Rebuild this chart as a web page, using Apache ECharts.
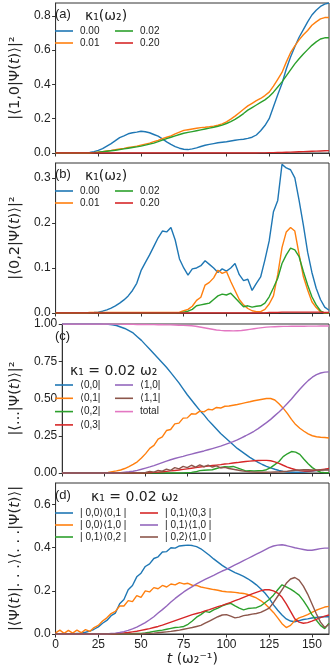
<!DOCTYPE html>
<html><head><meta charset="utf-8">
<script src="https://cdn.jsdelivr.net/npm/echarts@6/dist/echarts.min.js"></script>
<style>html,body{margin:0;padding:0;background:#fff}#c{width:332px;height:668px}</style>
</head><body><div id="c"></div>
<script>
// time grid (omega_2^-1)
const T = [0,2.5,5,7.5,10,12.5,15,17.5,20,22.5,
 25,27.5,30,32.5,35,37.5,40,42.5,45,47.5,
 50,52.5,55,57.5,60,62.5,65,67.5,70,72.5,
 75,77.5,80,82.5,85,87.5,90,92.5,95,97.5,
 100,102.5,105,107.5,110,112.5,115,117.5,120,122.5,
 125,127.5,130,132.5,135,137.5,140,142.5,145,147.5,
 150,152.5,155,157.5,160];

// panel (a): |<1,0|Psi(t)>|^2 for kappa1 = 0.00, 0.01, 0.02, 0.20
const a_k000 = [0,0,0,0,0,0,0,0,0.003,0.008,
 0.015,0.025,0.04,0.055,0.072,0.09,0.1,0.112,0.118,0.122,
 0.127,0.124,0.118,0.108,0.098,0.082,0.065,0.05,0.037,0.028,
 0.022,0.02,0.024,0.03,0.038,0.045,0.05,0.055,0.06,0.063,
 0.066,0.07,0.074,0.078,0.08,0.085,0.092,0.105,0.13,0.16,
 0.2,0.27,0.34,0.405,0.49,0.56,0.62,0.675,0.72,0.765,
 0.805,0.833,0.855,0.868,0.875];
const a_k001 = [0,0,0,0,0,0,0,0,0,0.002,
 0.005,0.008,0.012,0.015,0.019,0.023,0.027,0.032,0.036,0.04,
 0.046,0.052,0.058,0.066,0.074,0.084,0.092,0.1,0.112,0.122,
 0.132,0.136,0.14,0.144,0.148,0.15,0.153,0.157,0.162,0.17,
 0.182,0.198,0.215,0.235,0.255,0.275,0.29,0.305,0.318,0.335,
 0.355,0.39,0.43,0.47,0.53,0.585,0.625,0.66,0.69,0.715,
 0.745,0.765,0.782,0.79,0.79];
const a_k002 = [0,0,0,0,0,0,0,0,0,0.002,
 0.004,0.007,0.01,0.013,0.016,0.02,0.024,0.028,0.032,0.036,
 0.04,0.046,0.052,0.058,0.066,0.075,0.084,0.092,0.1,0.108,
 0.115,0.12,0.125,0.13,0.135,0.14,0.145,0.15,0.156,0.163,
 0.172,0.183,0.196,0.212,0.23,0.25,0.265,0.28,0.295,0.31,
 0.33,0.355,0.385,0.415,0.45,0.485,0.52,0.55,0.578,0.603,
 0.628,0.648,0.665,0.672,0.672];
const a_k020 = [0,0,0,0,0,0,0,0,0,0,
 0,0,0,0,0,0,0,0,0,0,
 0,0,0,0,0,0,0,0,0,0,
 0,0,0,0,0,0,0,0,0,0,
 0,0,0,0,0,0,0,0,0.001,0.001,
 0.002,0.002,0.003,0.003,0.004,0.005,0.006,0.007,0.008,0.009,
 0.01,0.011,0.012,0.013,0.014];

// panel (b): |<0,2|Psi(t)>|^2
const b_k000 = [0,0,0,0,0,0,0,0,0.0005,0.001,
 0.002,0.004,0.007,0.011,0.016,0.022,0.029,0.038,0.05,0.066,
 0.094,0.112,0.129,0.148,0.167,0.182,0.18,0.19,0.162,0.12,
 0.1,0.084,0.098,0.1,0.105,0.116,0.108,0.1,0.09,0.098,
 0.093,0.1,0.11,0.085,0.072,0.075,0.05,0.066,0.08,0.118,
 0.16,0.225,0.25,0.33,0.322,0.318,0.3,0.25,0.195,0.135,
 0.09,0.055,0.03,0.013,0.006];
const b_k001 = [0,0,0,0,0,0,0,0,0.001,0.001,
 0.001,0.001,0.001,0.001,0.001,0.001,0.001,0.001,0.001,0.001,
 0.001,0.001,0.001,0.001,0.001,0.001,0.001,0.001,0.001,0.002,
 0.005,0.008,0.015,0.028,0.035,0.062,0.068,0.078,0.095,0.088,
 0.092,0.07,0.05,0.03,0.018,0.01,0.005,0.003,0.003,0.008,
 0.02,0.038,0.085,0.145,0.18,0.19,0.182,0.13,0.081,0.051,
 0.025,0.012,0.003,0,0];
const b_k002 = [0,0,0,0,0,0,0,0,0,0,
 0,0,0,0,0,0,0,0,0,0,
 0,0,0,0,0,0,0,0,0,0,
 0.002,0.004,0.008,0.016,0.018,0.02,0.022,0.03,0.038,0.042,
 0.04,0.044,0.034,0.024,0.014,0.016,0.013,0.015,0.016,0.022,
 0.036,0.056,0.077,0.11,0.129,0.144,0.14,0.125,0.092,0.062,
 0.036,0.018,0.005,0,0];
const b_k020 = [0,0,0,0,0,0,0,0,0,0,
 0,0,0,0,0,0,0,0,0,0,
 0,0,0,0,0,0,0,0,0,0,
 0,0,0,0,0,0,0,0,0,0,
 0,0,0,0,0,0,0,0,0,0,
 0.001,0.001,0.001,0.002,0.002,0.002,0.002,0.002,0.002,0.002,
 0.002,0.002,0.002,0.001,0.001];

// panel (c): populations, kappa1 = 0.02
const c_00 = [1,1,1,1,1,1,1,1,1,1,
 0.999,0.998,0.995,0.99,0.98,0.97,0.955,0.94,0.915,0.89,
 0.86,0.83,0.8,0.77,0.74,0.71,0.675,0.64,0.605,0.565,
 0.525,0.49,0.455,0.42,0.39,0.355,0.325,0.295,0.265,0.24,
 0.215,0.19,0.165,0.145,0.125,0.105,0.088,0.072,0.057,0.045,
 0.034,0.025,0.017,0.011,0.007,0.005,0.005,0.005,0.007,0.01,
 0.013,0.016,0.02,0.023,0.025];
const c_01 = [0,0,0,0,0,0,0,0,0,0,
 0.001,0.004,0.009,0.014,0.02,0.03,0.043,0.058,0.075,0.1,
 0.13,0.165,0.185,0.228,0.243,0.285,0.292,0.33,0.335,0.368,
 0.37,0.398,0.395,0.415,0.41,0.428,0.424,0.44,0.436,0.448,
 0.45,0.455,0.46,0.466,0.472,0.478,0.485,0.49,0.495,0.5,
 0.5,0.49,0.465,0.435,0.4,0.36,0.325,0.3,0.28,0.262,
 0.25,0.243,0.24,0.238,0.235];
const c_02 = [0,0,0,0,0,0,0,0,0,0,
 0,0,0,0,0,0,0,0,0,0,
 0,0,0,0,0,0,0,0,0,0,
 0.002,0.004,0.008,0.016,0.018,0.02,0.022,0.03,0.038,0.042,
 0.04,0.044,0.034,0.024,0.014,0.016,0.013,0.015,0.016,0.022,
 0.036,0.056,0.077,0.11,0.129,0.144,0.14,0.125,0.092,0.062,
 0.036,0.018,0.005,0.002,0.002];
const c_03 = [0,0,0,0,0,0,0,0,0,0,
 0,0,0,0,0,0,0,0,0,0,
 0,0.002,0.004,0.006,0.008,0.011,0.014,0.017,0.02,0.024,
 0.028,0.032,0.036,0.04,0.043,0.046,0.05,0.053,0.056,0.06,
 0.063,0.067,0.07,0.074,0.077,0.08,0.082,0.084,0.085,0.085,
 0.082,0.075,0.065,0.052,0.04,0.03,0.022,0.016,0.013,0.013,
 0.015,0.018,0.022,0.026,0.03];
const c_10 = [0,0,0,0,0,0,0,0,0,0,
 0,0,0,0,0.002,0.005,0.008,0.012,0.018,0.025,
 0.033,0.041,0.05,0.06,0.07,0.08,0.089,0.097,0.105,0.112,
 0.12,0.127,0.134,0.141,0.148,0.156,0.164,0.172,0.18,0.19,
 0.2,0.21,0.222,0.236,0.25,0.265,0.28,0.298,0.318,0.338,
 0.36,0.385,0.41,0.437,0.467,0.497,0.53,0.562,0.592,0.62,
 0.643,0.66,0.671,0.677,0.679];
const c_11 = [0,0,0,0,0,0,0,0,0,0,
 0,0,0,0,0,0,0,0,0,0.002,
 0.004,0.01,0.006,0.018,0.012,0.026,0.018,0.036,0.028,0.044,
 0.036,0.052,0.04,0.054,0.042,0.053,0.04,0.048,0.034,0.038,
 0.03,0.025,0.02,0.015,0.011,0.008,0.006,0.005,0.005,0.005,
 0.006,0.007,0.008,0.01,0.012,0.015,0.018,0.02,0.022,0.022,
 0.021,0.02,0.02,0.02,0.02];
const c_total = [1,1,1,1,1,1,1,1,1,1,
 1,1,0.999,0.999,0.999,0.998,0.998,0.998,0.997,0.997,
 0.997,0.996,0.996,0.995,0.995,0.994,0.994,0.993,0.992,0.991,
 0.99,0.988,0.985,0.98,0.975,0.97,0.965,0.96,0.957,0.955,
 0.955,0.954,0.955,0.956,0.96,0.964,0.968,0.972,0.976,0.979,
 0.981,0.982,0.983,0.984,0.984,0.985,0.985,0.985,0.985,0.986,
 0.986,0.986,0.987,0.987,0.987];

// panel (d): coherences, kappa1 = 0.02
const d_00_01 = [0,0,0,0,0,0.002,0.004,0.008,0.013,0.022,
 0.033,0.05,0.063,0.085,0.097,0.14,0.16,0.205,0.225,0.265,
 0.282,0.313,0.325,0.35,0.358,0.38,0.382,0.4,0.398,0.408,
 0.41,0.412,0.41,0.405,0.395,0.38,0.365,0.348,0.333,0.318,
 0.305,0.295,0.285,0.276,0.267,0.256,0.243,0.228,0.21,0.19,
 0.165,0.135,0.11,0.088,0.07,0.06,0.057,0.062,0.067,0.07,
 0.074,0.077,0.079,0.08,0.08];
const d_00_10 = [0.005,0.018,0.003,0.017,0.004,0.018,0.006,0.02,0.012,0.03,
 0.04,0.06,0.075,0.095,0.105,0.13,0.13,0.155,0.15,0.178,
 0.17,0.2,0.195,0.215,0.21,0.225,0.218,0.232,0.228,0.238,
 0.232,0.235,0.226,0.225,0.218,0.214,0.21,0.206,0.203,0.198,
 0.196,0.195,0.193,0.19,0.188,0.183,0.175,0.167,0.155,0.14,
 0.12,0.1,0.075,0.048,0.03,0.04,0.062,0.075,0.082,0.09,
 0.1,0.11,0.118,0.125,0.128];
const d_01_02 = [0,0,0,0,0,0,0,0,0,0,
 0,0,0,0,0,0,0,0,0.001,0.002,
 0.003,0.005,0.008,0.012,0.015,0.018,0.022,0.026,0.03,0.032,
 0.035,0.045,0.06,0.078,0.09,0.105,0.1,0.112,0.12,0.13,
 0.138,0.142,0.13,0.12,0.112,0.118,0.12,0.122,0.13,0.145,
 0.16,0.18,0.205,0.228,0.218,0.208,0.195,0.18,0.155,0.125,
 0.09,0.065,0.04,0.025,0.05];
const d_01_03 = [0,0,0,0,0,0,0,0,0,0,
 0,0,0,0,0,0.003,0.005,0.007,0.01,0.013,
 0.017,0.021,0.025,0.03,0.035,0.041,0.048,0.055,0.062,0.069,
 0.076,0.083,0.09,0.095,0.1,0.107,0.113,0.12,0.127,0.133,
 0.14,0.147,0.155,0.162,0.17,0.178,0.186,0.193,0.2,0.205,
 0.205,0.2,0.19,0.17,0.14,0.105,0.07,0.055,0.05,0.053,
 0.06,0.068,0.076,0.083,0.088];
const d_01_10 = [0,0,0,0,0,0,0,0,0,0,
 0,0,0,0.002,0.004,0.007,0.011,0.017,0.024,0.032,
 0.042,0.053,0.066,0.08,0.097,0.113,0.13,0.148,0.165,0.18,
 0.195,0.208,0.22,0.232,0.243,0.253,0.263,0.272,0.282,0.292,
 0.3,0.31,0.32,0.33,0.34,0.35,0.36,0.37,0.38,0.39,
 0.4,0.408,0.412,0.414,0.41,0.405,0.4,0.396,0.392,0.388,
 0.388,0.392,0.396,0.398,0.398];
const d_02_10 = [0,0,0,0,0,0,0,0,0,0,
 0,0,0,0,0,0,0,0,0,0,
 0,0.002,0.003,0.004,0.006,0.008,0.01,0.012,0.015,0.018,
 0.022,0.026,0.03,0.035,0.04,0.05,0.06,0.07,0.08,0.088,
 0.09,0.083,0.075,0.078,0.085,0.088,0.092,0.095,0.1,0.11,
 0.12,0.145,0.175,0.205,0.235,0.255,0.262,0.25,0.222,0.185,
 0.14,0.095,0.055,0.03,0.045];

// labels
const legA = ['0.00','0.01','0.02','0.20'];
const legC = ['⟨0,0|','⟨0,1|','⟨0,2|','⟨0,3|','⟨1,0|','⟨1,1|','total'];
const legD = ['| 0,0⟩⟨0,1 |','| 0,0⟩⟨1,0 |','| 0,1⟩⟨0,2 |','| 0,1⟩⟨0,3 |','| 0,1⟩⟨1,0 |','| 0,2⟩⟨1,0 |'];
const xTickStep = 25;

const COL = {blue:'#1f77b4', orange:'#ff7f0e', green:'#2ca02c', red:'#d62728', purple:'#9467bd', brown:'#8c564b', pink:'#e377c2'};
const FONT = 'Liberation Sans, Arial, DejaVu Sans, sans-serif';
const MATH = 'DejaVu Sans, sans-serif';
const AX = '#333';

const grids = [
  {left:48, top:3, width:281, height:150},
  {left:48, top:163, width:281, height:150},
  {left:48, top:324, width:281, height:149},
  {left:48, top:483, width:281, height:151}
].map(g => Object.assign(g, {show:true, borderColor:AX, borderWidth:1, backgroundColor:'transparent'}));

function mkX(i){
  const last = i === 3;
  return {
    type:'value', gridIndex:i, min:0, max:160, interval:xTickStep,
    axisLine:{show:true, lineStyle:{color:AX, width:1}},
    axisTick:{show:true, inside:false, length:3.5, lineStyle:{color:AX}},
    axisLabel:{show:last, color:'#222', fontSize:12, fontFamily:FONT, margin:5, showMaxLabel:false},
    splitLine:{show:false},
    name: last ? '{i|t} (ω₂⁻¹)' : '',
    nameLocation:'middle', nameGap:17,
    nameTextStyle:{fontSize:14, fontFamily:MATH, color:'#222', rich:{i:{fontStyle:'italic', fontSize:14, fontFamily:MATH, color:'#222'}}}
  };
}
function mkY(i, max, interval, dec, name, gap, showMax){
  return {
    type:'value', gridIndex:i, min:0, max:max, interval:interval,
    axisLine:{show:true, lineStyle:{color:AX, width:1}},
    axisTick:{show:true, inside:false, length:3.5, lineStyle:{color:AX}},
    axisLabel:{color:'#222', fontSize:12, fontFamily:FONT, margin:5, showMaxLabel:showMax,
      formatter: v => v.toFixed(dec)},
    splitLine:{show:false},
    name:name, nameLocation:'middle', nameGap:gap, nameRotate:90,
    nameTextStyle:{fontSize:14.5, fontFamily:MATH, color:'#222', rich:{i:{fontStyle:'italic', fontSize:14.5, fontFamily:MATH, color:'#222'}}}
  };
}

function line(i, name, data, color){
  return {
    type:'line', name:name, xAxisIndex:i, yAxisIndex:i,
    data: T.map((t,k) => [t, data[k]]),
    showSymbol:false, symbol:'none', smooth:false,
    lineStyle:{width:1.4, color:color}, itemStyle:{color:color},
    animation:false, silent:true, clip:true
  };
}

const series = [
  line(0, legA[0], a_k000, COL.blue), line(0, legA[1], a_k001, COL.orange),
  line(0, legA[2], a_k002, COL.green), line(0, legA[3], a_k020, COL.red),
  line(1, legA[0], b_k000, COL.blue), line(1, legA[1], b_k001, COL.orange),
  line(1, legA[2], b_k002, COL.green), line(1, legA[3], b_k020, COL.red),
  line(2, legC[0], c_00, COL.blue), line(2, legC[1], c_01, COL.orange),
  line(2, legC[2], c_02, COL.green), line(2, legC[3], c_03, COL.red),
  line(2, legC[4], c_10, COL.purple), line(2, legC[5], c_11, COL.brown),
  line(2, legC[6], c_total, COL.pink),
  line(3, legD[0], d_00_01, COL.blue), line(3, legD[1], d_00_10, COL.orange),
  line(3, legD[2], d_01_02, COL.green), line(3, legD[3], d_01_03, COL.red),
  line(3, legD[4], d_01_10, COL.purple), line(3, legD[5], d_02_10, COL.brown)
];

function leg(left, top, data, gap){
  return {left:left, top:top, orient:'vertical', padding:0, itemGap:gap,
    itemWidth:18, itemHeight:1.6, icon:'rect', selectedMode:false, data:data,
    textStyle:{fontSize:10, lineHeight:12, color:'#222', fontFamily:FONT, padding:[0,0,0,2]}};
}
const legends = [
  leg(55, 25, [legA[0], legA[1]], 0), leg(115, 25, [legA[2], legA[3]], 0),
  leg(55, 185, [legA[0], legA[1]], 0), leg(115, 185, [legA[2], legA[3]], 0),
  leg(55, 379, legC.slice(0,4), 1.3), leg(115, 379, legC.slice(4), 1.3),
  leg(55, 507, legD.slice(0,3), 0), leg(140, 507, legD.slice(3), 0)
];

function txt(left, top, text, size, fam){
  return {type:'text', left:left, top:top, silent:true,
    style:{text:text, font: size + 'px ' + fam, fill:'#222'}};
}
const graphics = [
  txt(55, 8, '(a)', 13, FONT), txt(85, 9, 'κ₁(ω₂)', 14, MATH),
  txt(55, 168, '(b)', 13, FONT), txt(85, 169, 'κ₁(ω₂)', 14, MATH),
  txt(55, 330, '(c)', 13, FONT), txt(70, 364, 'κ₁ = 0.02 ω₂', 14, MATH),
  txt(55, 489, '(d)', 13, FONT), txt(91, 490, 'κ₁ = 0.02 ω₂', 14, MATH)
];

const chart = echarts.init(document.getElementById('c'), null, {renderer:'canvas', width:332, height:668});
chart.setOption({
  animation:false,
  backgroundColor:'#fff',
  grid: grids,
  xAxis: [mkX(0), mkX(1), mkX(2), mkX(3)],
  yAxis: [
    mkY(0, 0.875, 0.2, 1, '|⟨1,0|Ψ({i|t})⟩|²', 22, false),
    mkY(1, 0.333, 0.1, 1, '|⟨0,2|Ψ({i|t})⟩|²', 22, false),
    mkY(2, 1.0, 0.25, 2, '|⟨...|Ψ({i|t})⟩|²', 27, true),
    mkY(3, 0.7, 0.2, 1, '|⟨Ψ({i|t})|. . .⟩⟨. . .|Ψ({i|t})⟩|', 25, false)
  ],
  legend: legends,
  graphic: graphics,
  series: series
});
</script>
</body></html>
